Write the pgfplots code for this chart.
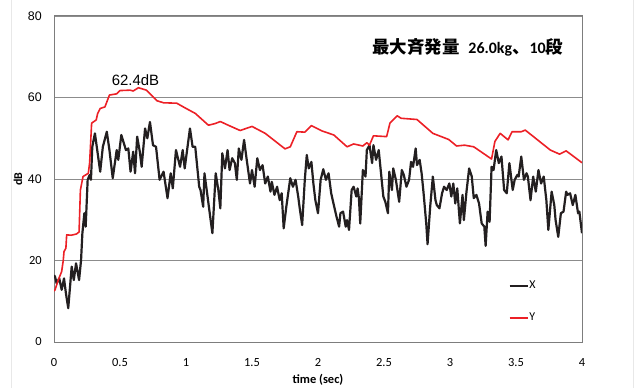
\documentclass[border=0pt]{standalone}
\usepackage{fontspec}
\usepackage{pgfplots}
\pgfplotsset{compat=1.18}
\setmainfont{Carlito}
\newfontfamily\arial{Liberation Sans}
\newfontfamily\calibri{Carlito}
\newfontfamily\cjk{Noto Sans CJK JP}
\definecolor{xline}{RGB}{35,31,32}
\definecolor{yline}{RGB}{236,32,38}
\definecolor{gridgray}{RGB}{140,140,140}
\definecolor{framegray}{RGB}{125,125,125}

\begin{document}
\begin{tikzpicture}
\useasboundingbox (0,0) rectangle (634bp,388bp);
% light outer chart border
\draw[gray!18, line width=0.8bp] (11bp,0) -- (11bp,388bp);
\draw[gray!18, line width=0.8bp] (633bp,0) -- (633bp,388bp);
\begin{axis}[
  at={(54bp,46bp)}, anchor=south west,
  width=528bp, height=326bp, scale only axis,
  xmin=0, xmax=4, ymin=0, ymax=80,
  xtick={0,0.5,1,1.5,2,2.5,3,3.5,4},
  xticklabels={0,0.5,1,1.5,2,2.5,3,3.5,4},
  ytick={0,20,40,60,80},
  yticklabels={{\calibri 0},{\calibri 20},{\arial 40},{\arial 60},{\arial 80}},
  major tick length=0pt,
  ymajorgrids,
  grid style={gridgray, line width=0.9bp},
  axis line style={framegray, line width=1bp},
  xticklabel style={font=\calibri\fontsize{12.5}{14}\selectfont, anchor=north, inner sep=0pt, yshift=-16bp},
  yticklabel style={font=\fontsize{12.5}{14}\selectfont, anchor=east, inner sep=0pt, xshift=-12bp},
  legend style={at={(rel axis cs:0.855,0.195)}, anchor=north west, draw=none, fill=none,
    font=\calibri\fontsize{12}{14}\selectfont, row sep=22bp,
    nodes={inner sep=0.5bp}},
  legend cell align=left,
  legend image code/.code={\draw[#1] (0bp,0bp) -- (18bp,0bp);},
]
% X component
\addplot[xline, line width=2.2bp, line join=round] coordinates {
(0,16.4)(0.008,16)(0.02,14.4)(0.04,15.6)(0.058,12.8)(0.076,15.6)(0.09,12)(0.108,8.3)
(0.134,18.5)(0.15,15.2)(0.167,19.3)(0.19,15.2)(0.205,20.1)(0.215,26.7)(0.23,31.6)(0.24,28.3)
(0.255,39.8)(0.27,41)(0.28,39.8)(0.29,47.9)(0.31,51.2)(0.336,45.1)(0.35,41.8)(0.37,47.9)
(0.40,51.6)(0.42,47.1)(0.445,40.2)(0.475,47.1)(0.487,44.7)(0.51,50.8)(0.545,47.1)(0.563,47.5)
(0.58,41.8)(0.60,46.7)(0.614,41.4)(0.63,50.4)(0.65,46.7)(0.664,43)(0.69,52.4)(0.707,50)
(0.727,54)(0.75,48.3)(0.773,47.9)(0.80,39.8)(0.83,41.8)(0.86,35.3)(0.884,41.4)(0.90,37.7)
(0.924,47.1)(0.955,43)(0.975,47.1)(0.99,42.6)(1.03,52.4)(1.05,47.9)(1.07,47.9)(1.10,38.1)
(1.11,37.3)(1.13,33.2)(1.14,41.4)(1.16,36.5)(1.19,29.1)(1.20,26.7)(1.225,41.4)(1.245,37.3)
(1.26,32.8)(1.275,46.3)(1.295,42.6)(1.315,47.1)(1.33,42.2)(1.35,45.1)(1.37,43.9)(1.385,39.8)
(1.40,47.5)(1.42,44.7)(1.44,49.6)(1.46,44.7)(1.485,38.9)(1.50,42.2)(1.52,38.1)(1.54,45.1)
(1.56,42.2)(1.58,43.4)(1.60,38.9)(1.62,40.6)(1.64,36.9)(1.65,39.3)(1.67,36.1)(1.69,38.1)
(1.71,34.8)(1.725,36.5)(1.74,27.9)(1.76,33.2)(1.79,40.2)(1.81,38.1)(1.83,39.8)(1.85,35.7)
(1.86,33.2)(1.88,28.7)(1.90,39.8)(1.915,45.9)(1.93,42.6)(1.95,44.2)(1.965,38.9)(1.98,34.8)
(2.00,31.6)(2.02,39.8)(2.04,42.4)(2.06,39.8)(2.08,41.4)(2.10,36.5)(2.12,33.6)(2.14,30.8)
(2.16,28.3)(2.17,31.6)(2.19,32)(2.21,28.3)(2.22,29.9)(2.235,27.5)(2.255,37.3)(2.27,38.1)
(2.29,35.7)(2.30,37.7)(2.31,35.3)(2.32,29.1)(2.34,42.2)(2.36,40.6)(2.37,47.1)(2.39,48.3)
(2.41,43.9)(2.42,48.3)(2.44,44.7)(2.46,47.1)(2.475,42.2)(2.495,35.7)(2.51,34.4)(2.53,31.6)
(2.54,41.8)(2.56,37.3)(2.57,42.6)(2.59,39.8)(2.615,34.4)(2.635,42.2)(2.65,41)(2.67,38.1)
(2.69,39.8)(2.705,44.2)(2.72,43)(2.74,47.5)(2.75,43.4)(2.77,44.7)(2.785,41.4)(2.80,36.5)
(2.82,29.1)(2.83,24)(2.85,33.2)(2.87,40.6)(2.89,34.8)(2.90,33.6)(2.92,32.8)(2.94,36.5)
(2.955,38.1)(2.975,37.3)(2.995,38.9)(3.01,35.7)(3.025,38.9)(3.04,34)(3.055,37.7)(3.075,29.1)
(3.095,36.1)(3.105,29.9)(3.125,36.9)(3.145,42.6)(3.165,40.6)(3.18,35.3)(3.20,36.1)(3.22,34)
(3.24,29.1)(3.26,28.3)(3.27,23.6)(3.285,32)(3.30,29.5)(3.315,43)(3.33,42.2)(3.35,47.1)
(3.37,43.9)(3.39,45.5)(3.41,37.3)(3.43,36.5)(3.45,43.9)(3.475,37.3)(3.49,39.8)(3.51,41)
(3.52,40.6)(3.54,45.5)(3.56,39.8)(3.58,41.4)(3.59,40.6)(3.61,34.8)(3.63,40.6)(3.65,36.9)
(3.67,42.2)(3.69,38.9)(3.71,40.6)(3.73,34.8)(3.745,27.5)(3.77,36.9)(3.79,33.6)(3.80,29.9)
(3.82,25.8)(3.84,31.6)(3.86,32)(3.88,36.9)(3.89,36.1)(3.91,36.5)(3.93,33.6)(3.95,36.1)
(3.97,31.6)(3.98,32)(4.0,26.7)
};
\addlegendentry{X}
% Y component
\addplot[yline, line width=1.6bp, line join=round] coordinates {
(0,12.5)(0.008,12.8)(0.03,15)(0.058,17.3)(0.07,20)(0.076,22.2)(0.09,23)(0.096,26.3)
(0.13,26.2)(0.17,26.5)(0.19,27)(0.2,37.3)(0.22,40.6)(0.26,41.4)(0.27,44)(0.285,53.7)
(0.32,54.5)(0.33,56)(0.35,57.3)(0.386,57.7)(0.42,60.6)(0.475,60.9)(0.5,61.7)(0.576,61.8)
(0.6,61.6)(0.64,62.4)(0.70,61.8)(0.78,59.2)(0.83,58.7)(0.93,58.6)(0.99,57.5)(1.07,56.1)
(1.17,53.2)(1.22,53.6)(1.26,54.1)(1.32,53.2)(1.41,51.9)(1.50,52.9)(1.60,51.2)(1.75,47.4)
(1.79,47.9)(1.84,51.6)(1.90,51.5)(1.95,53.1)(2.03,51.8)(2.12,50.8)(2.22,47.9)(2.27,48.6)
(2.34,48.1)(2.37,48.9)(2.39,48.3)(2.42,50.6)(2.52,50.4)(2.545,53.7)(2.60,55.5)(2.63,54.9)
(2.75,54.6)(2.87,51.2)(2.99,49.7)(3.05,48.1)(3.11,48.3)(3.18,47.9)(3.315,44.9)(3.34,49.2)
(3.38,51.2)(3.44,49.6)(3.47,51.6)(3.54,51.6)(3.57,52)(3.64,50.2)(3.76,47.1)(3.83,46.1)
(3.88,46.9)(4.0,44)
};
\addlegendentry{Y}
% peak value of Y
\node[font=\arial\fontsize{15}{17}\selectfont] at (axis cs:0.617,64.3) {62.4dB};
% heading inside the plot
\node[anchor=west, inner sep=0pt] at (axis cs:2.41,72.4)
  {\cjk\bfseries\fontsize{17.5}{19}\selectfont 最大斉発量\hspace{9bp}{\calibri\bfseries\fontsize{16}{18}\selectfont 26.0kg}、{\calibri\bfseries\fontsize{16}{18}\selectfont 10}段};
\end{axis}
% axis titles
\node[rotate=90, font=\calibri\bfseries\fontsize{12}{14}\selectfont] at (18bp,209bp) {dB};
\node[font=\calibri\bfseries\fontsize{12.5}{14}\selectfont] at (318bp,8bp) {time (sec)};
\end{tikzpicture}
\end{document}
